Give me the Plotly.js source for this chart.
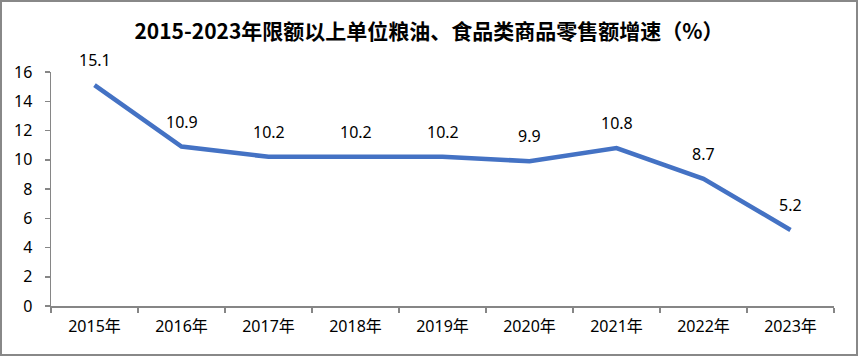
<!DOCTYPE html>
<html><head><meta charset="utf-8">
<script src="https://cdn.plot.ly/plotly-3.0.1.min.js"></script>
<style>
html,body{margin:0;padding:0;background:#fff;}
#wrap{width:858px;height:356px;box-sizing:border-box;border:2px solid #888;overflow:hidden;}
#chart{width:854px;height:352px;}
</style></head>
<body><div id="wrap"><div id="chart"></div></div>
<script>
const categories = ["2015年","2016年","2017年","2018年","2019年","2020年","2021年","2022年","2023年"];
const growth = [15.1, 10.9, 10.2, 10.2, 10.2, 9.9, 10.8, 8.7, 5.2];
const labels = growth.map(v => v.toFixed(1));
const yTicks = [0,2,4,6,8,10,12,14,16];

const font = "Noto Sans, Noto Sans CJK SC, sans-serif";
const trace = {
  x: categories, y: growth, type: "scatter", mode: "lines",
  line: {color: "#4472C4", width: 4.5}, hoverinfo: "skip"
};
const annotations = categories.map((c, i) => ({
  x: c, y: growth[i], xref: "x", yref: "y", text: labels[i],
  showarrow: false, yshift: 25, font: {family: font, size: 16, color: "#000"}
}));
const layout = {
  width: 854, height: 352,
  margin: {l: 49, r: 22, t: 70, b: 48},
  paper_bgcolor: "#fff", plot_bgcolor: "#fff",
  showlegend: false,
  title: {text: "<b>2015-2023年限额以上单位粮油、食品类商品零售额增速（%）</b>",
          font: {family: "Noto Sans CJK SC, sans-serif", size: 21, color: "#000"},
          x: 0.5, xanchor: "center", y: 0.915, yanchor: "middle"},
  xaxis: {type: "category", range: [-0.5, 8.5], showgrid: false, zeroline: false, showline: true,
          linecolor: "#868686", linewidth: 1.5, ticks: "outside", tickson: "boundaries",
          ticklen: 5, tickcolor: "#868686", tickwidth: 1.5, ticklabelstandoff: 5,
          tickfont: {family: font, size: 16, color: "#000"}, fixedrange: true},
  yaxis: {range: [0, 16], tickvals: yTicks, showgrid: false, zeroline: false,
          showline: true, linecolor: "#868686", linewidth: 1.5, ticks: "outside",
          ticklen: 5, tickcolor: "#868686", tickwidth: 1.5, ticklabelstandoff: 9,
          tickfont: {family: font, size: 16, color: "#000"}, fixedrange: true},
  annotations: annotations
};
Plotly.newPlot("chart", [trace], layout, {displayModeBar: false, staticPlot: true});
</script></body></html>
